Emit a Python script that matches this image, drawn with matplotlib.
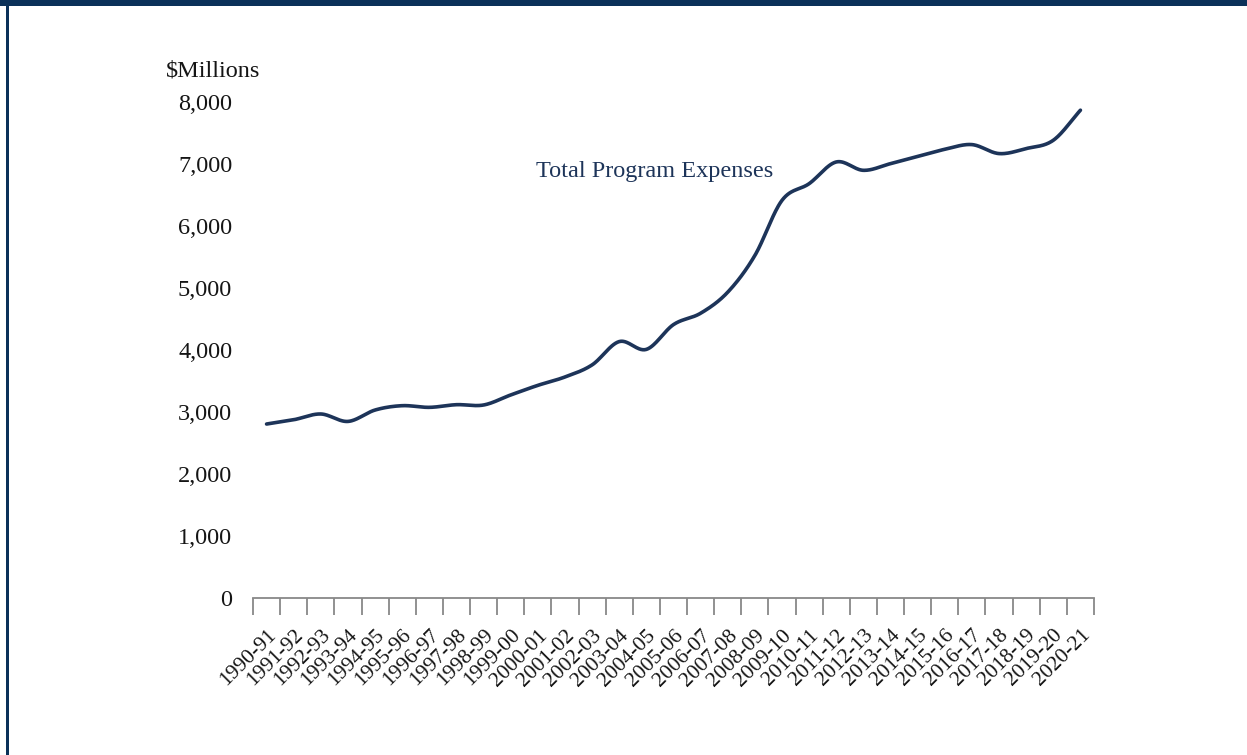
import numpy as np
import matplotlib
matplotlib.use("Agg")
import matplotlib.pyplot as plt
from matplotlib.ticker import FuncFormatter, FixedLocator

years = ["1990-91", "1991-92", "1992-93", "1993-94", "1994-95", "1995-96", "1996-97",
         "1997-98", "1998-99", "1999-00", "2000-01", "2001-02", "2002-03", "2003-04",
         "2004-05", "2005-06", "2006-07", "2007-08", "2008-09", "2009-10", "2010-11",
         "2011-12", "2012-13", "2013-14", "2014-15", "2015-16", "2016-17", "2017-18",
         "2018-19", "2019-20", "2020-21"]
expenses = [2806, 2875, 2968, 2848, 3032, 3102, 3075, 3118, 3113, 3275, 3430, 3565, 3760,
            4136, 4010, 4410, 4593, 4933, 5525, 6414, 6683, 7033, 6898, 7006, 7124, 7237,
            7313, 7168, 7249, 7383, 7868]
y_ticks = [0, 1000, 2000, 3000, 4000, 5000, 6000, 7000, 8000]

NAVY = "#1d3459"
BORDER = "#0b3159"
FONT = ["Liberation Serif", "DejaVu Serif"]
plt.rcParams["font.family"] = FONT


def smooth(xs, ys, n=30, t=0.5):
    """Catmull-Rom style smoothing, similar to a spreadsheet 'smoothed line'."""
    xs = np.asarray(xs, float)
    ys = np.asarray(ys, float)
    px = np.concatenate([[2 * xs[0] - xs[1]], xs, [2 * xs[-1] - xs[-2]]])
    py = np.concatenate([[2 * ys[0] - ys[1]], ys, [2 * ys[-1] - ys[-2]]])
    ox, oy = [], []
    for i in range(1, len(px) - 2):
        p0, p1, p2, p3 = (np.array([px[j], py[j]]) for j in (i - 1, i, i + 1, i + 2))
        m1 = t * (p2 - p0)
        m2 = t * (p3 - p1)
        s = np.linspace(0, 1, n, endpoint=(i == len(px) - 3))
        h00 = 2 * s**3 - 3 * s**2 + 1
        h10 = s**3 - 2 * s**2 + s
        h01 = -2 * s**3 + 3 * s**2
        h11 = s**3 - s**2
        pts = (np.outer(h00, p1) + np.outer(h10, m1) + np.outer(h01, p2) + np.outer(h11, m2))
        ox.extend(pts[:, 0])
        oy.extend(pts[:, 1])
    return np.array(ox), np.array(oy)


fig = plt.figure(figsize=(12.47, 7.55), dpi=100)
ax = fig.add_axes([253 / 1247, 1 - 598 / 755, (1094 - 253) / 1247, (598 - 102) / 755])

x = np.arange(len(years))
sx, sy = smooth(x, expenses)
ax.plot(sx, sy, color=NAVY, lw=2.6, solid_capstyle="round", zorder=3)

ax.set_xlim(-0.5, len(years) - 0.5)
ax.set_ylim(0, 8000)
ax.set_yticks(y_ticks)
ax.yaxis.set_major_formatter(FuncFormatter(lambda v, p: f"{int(v):,}"))
ax.tick_params(axis="y", length=0, pad=15, labelsize=17.5, labelcolor="#151515")

ax.xaxis.set_major_locator(FixedLocator(np.arange(len(years) + 1) - 0.5))
ax.xaxis.set_major_formatter(FuncFormatter(lambda v, p: ""))
ax.xaxis.set_minor_locator(FixedLocator(x))
ax.set_xticklabels(years, minor=True)
ax.tick_params(axis="x", which="major", length=12, width=1.3, color="#888888", direction="out")
ax.tick_params(axis="x", which="minor", length=0, pad=20, labelsize=15.5, labelcolor="#151515")
for lab in ax.get_xticklabels(minor=True):
    lab.set_rotation(45)
    lab.set_ha("right")
    lab.set_va("top")
    lab.set_rotation_mode("anchor")

for s in ("top", "right", "left"):
    ax.spines[s].set_visible(False)
ax.spines["bottom"].set_color("#888888")
ax.spines["bottom"].set_linewidth(1.3)

ax.text(9.95, 6880, "Total Program Expenses", color=NAVY, fontsize=17.5,
        ha="left", va="center")

fig.text(166 / 1247, 1 - 71 / 755, "$Millions", fontsize=17.5, color="#151515",
         ha="left", va="center")

# frame: top band and left rule
fig.add_artist(plt.Rectangle((0, 1 - 6 / 755), 1, 6 / 755, transform=fig.transFigure,
                             color=BORDER, lw=0))
fig.add_artist(plt.Rectangle((6 / 1247, 0), 3 / 1247, 1, transform=fig.transFigure,
                             color=BORDER, lw=0))

fig.savefig("out.png", dpi=100)
